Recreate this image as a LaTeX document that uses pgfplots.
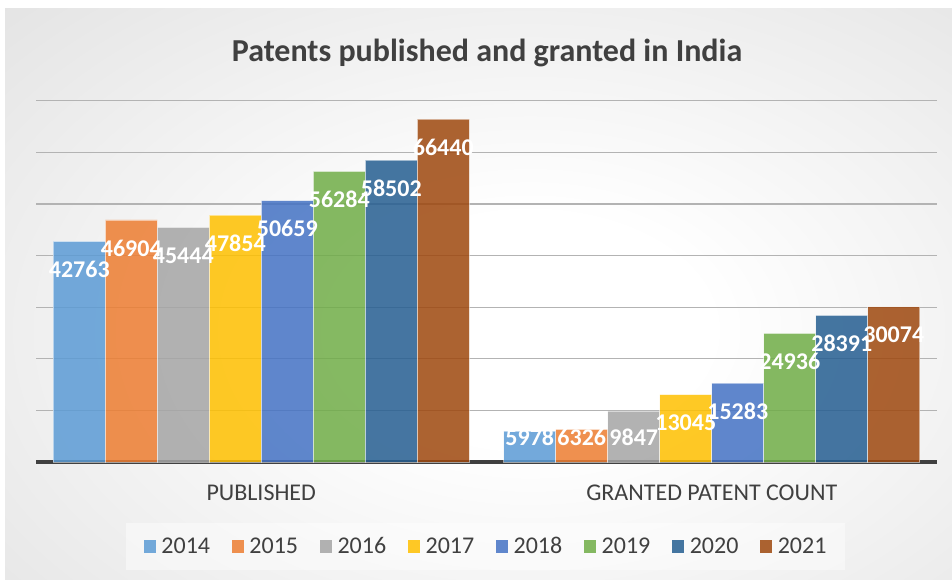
\documentclass[border=0pt]{standalone}
\usepackage{pgfplots}
\usepackage{pgfplotstable}
\pgfplotsset{compat=1.18}
\usepackage{fontspec}
\setmainfont{Carlito}
\definecolor{c1}{HTML}{5B9BD5}
\definecolor{c2}{HTML}{ED7D31}
\definecolor{c3}{HTML}{A5A5A5}
\definecolor{c4}{HTML}{FFC000}
\definecolor{c5}{HTML}{4472C4}
\definecolor{c6}{HTML}{70AD47}
\definecolor{c7}{HTML}{255E91}
\definecolor{c8}{HTML}{9E480E}
\definecolor{txt}{HTML}{404040}
\definecolor{gridc}{HTML}{B3B3B3}
\pgfdeclareradialshading{bgshade}{\pgfpoint{0bp}{0bp}}{rgb(0bp)=(1,1,1); rgb(8bp)=(1,1,1); rgb(50bp)=(0.82,0.82,0.82); rgb(70bp)=(0.78,0.78,0.78)}
\pgfplotstableread{
x y2014 y2015 y2016 y2017 y2018 y2019 y2020 y2021
0 42763 46904 45444 47854 50659 56284 58502 66440
1 5978 6326 9847 13045 15283 24936 28391 30074
}\data
\begin{document}
\begin{tikzpicture}
\useasboundingbox (0,0) rectangle (952bp,580bp);
\fill[white] (0,0) rectangle (952bp,580bp);
\begin{scope}
\clip (5bp,0) rectangle (952bp,571bp);
\fill[shading=bgshade] (-30bp,-110bp) rectangle (1090bp,610bp);
\end{scope}
\node[font=\fontsize{32bp}{38bp}\selectfont\bfseries, text=txt] at (487bp,527bp) {Patents published and granted in India};
\begin{axis}[
  at={(36bp,118bp)}, anchor=south west,
  scale only axis, width=901bp, height=361.3bp,
  xmin=-0.5, xmax=1.5, ymin=0, ymax=70000,
  scaled y ticks=false,
  /pgf/number format/assume math mode=true,
  axis x line*=bottom, axis y line*=left,
  y axis line style={draw=none},
  x axis line style={line width=3bp, color=txt, -},
  major tick length=0pt,
  ytick={10000,20000,30000,40000,50000,60000,70000},
  yticklabels={},
  ymajorgrids, grid style={gridc, line width=1.2bp},
  xtick={0,1},
  xticklabels={PUBLISHED,GRANTED PATENT COUNT},
  xticklabel style={font=\fontsize{24bp}{28bp}\selectfont, text=txt, yshift=-19bp},
  bar width=52bp,
  every axis plot/.append style={fill opacity=0.85, draw=white, draw opacity=0.5, line width=0.8bp},
  legend columns=8,
  legend style={at={(0.4989,-0.2339)}, anchor=center, draw=none, fill=white, fill opacity=0.45, text opacity=1,
    font=\fontsize{24bp}{28bp}\selectfont, text=txt, inner xsep=17.5bp, inner ysep=13.5bp,
    nodes={inner sep=1bp},
    /tikz/every odd column/.append style={column sep=4.5bp},
    /tikz/every even column/.append style={column sep=20.5bp}},
  legend image code/.code={\fill[#1, draw=none] (0bp,-6.2bp) rectangle (12.4bp,6.2bp);},
  nodelab/.style={forget plot, draw=none, mark=none, nodes near coords, point meta=explicit,
    nodes near coords={\pgfmathprintnumber[fixed,precision=0,1000 sep={}]{\pgfplotspointmeta}},
    every node near coord/.append style={anchor=center, text=white, text opacity=1, fill opacity=1,
      font=\fontsize{24bp}{28bp}\selectfont\bfseries, inner sep=0pt}},
]
\addplot[ybar, bar shift=-182bp, fill=c1] table[x=x, y=y2014] {\data};
\addplot[ybar, bar shift=-130bp, fill=c2] table[x=x, y=y2015] {\data};
\addplot[ybar, bar shift=-78bp, fill=c3] table[x=x, y=y2016] {\data};
\addplot[ybar, bar shift=-26bp, fill=c4] table[x=x, y=y2017] {\data};
\addplot[ybar, bar shift=26bp, fill=c5] table[x=x, y=y2018] {\data};
\addplot[ybar, bar shift=78bp, fill=c6] table[x=x, y=y2019] {\data};
\addplot[ybar, bar shift=130bp, fill=c7] table[x=x, y=y2020] {\data};
\addplot[ybar, bar shift=182bp, fill=c8] table[x=x, y=y2021] {\data};
\legend{2014,2015,2016,2017,2018,2019,2020,2021}
\addplot[nodelab] table[x expr={\thisrow{x}-0.40399}, y expr={max(\thisrow{y2014}-5425,4845)}, meta=y2014] {\data};
\addplot[nodelab] table[x expr={\thisrow{x}-0.28857}, y expr={max(\thisrow{y2015}-5425,4845)}, meta=y2015] {\data};
\addplot[nodelab] table[x expr={\thisrow{x}-0.17314}, y expr={max(\thisrow{y2016}-5425,4845)}, meta=y2016] {\data};
\addplot[nodelab] table[x expr={\thisrow{x}-0.05771}, y expr={max(\thisrow{y2017}-5425,4845)}, meta=y2017] {\data};
\addplot[nodelab] table[x expr={\thisrow{x}+0.05771}, y expr={max(\thisrow{y2018}-5425,4845)}, meta=y2018] {\data};
\addplot[nodelab] table[x expr={\thisrow{x}+0.17314}, y expr={max(\thisrow{y2019}-5425,4845)}, meta=y2019] {\data};
\addplot[nodelab] table[x expr={\thisrow{x}+0.28857}, y expr={max(\thisrow{y2020}-5425,4845)}, meta=y2020] {\data};
\addplot[nodelab] table[x expr={\thisrow{x}+0.40399}, y expr={max(\thisrow{y2021}-5425,4845)}, meta=y2021] {\data};
\end{axis}
\end{tikzpicture}
\end{document}
